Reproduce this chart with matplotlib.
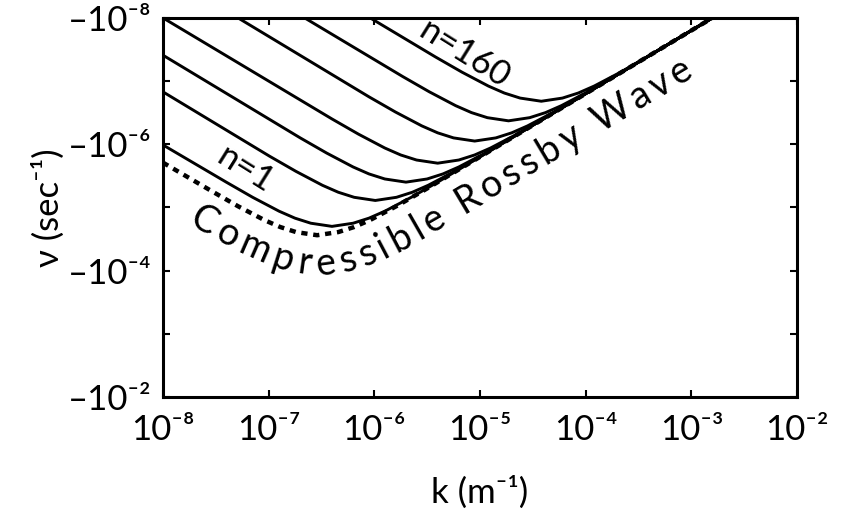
import numpy as np
import matplotlib
matplotlib.use('Agg')
import matplotlib.pyplot as plt
from matplotlib.ticker import FixedLocator, FixedFormatter, NullFormatter

# exponents: k = 10**x (m^-1), nu = -10**y (sec^-1)
dash_x = [-8.00, -7.54, -7.29, -7.04, -6.89, -6.74, -6.54, -6.34, -6.19, -6.04, -5.79, -5.54, -2.80]
dash_y = [-5.71, -5.26, -5.02, -4.80, -4.69, -4.61, -4.56, -4.61, -4.69, -4.80, -5.02, -5.26, -8.00]

# mode1 is n=1, mode7 is n=160
mode1_x = [-8.00, -7.40, -7.15, -6.90, -6.75, -6.60, -6.40, -6.20, -6.05, -5.90, -5.65, -5.40, -2.80]
mode1_y = [-5.99, -5.40, -5.16, -4.94, -4.83, -4.75, -4.70, -4.75, -4.83, -4.94, -5.16, -5.40, -8.00]
mode2_x = [-8.00, -6.99, -6.74, -6.49, -6.34, -6.19, -5.99, -5.79, -5.64, -5.49, -5.24, -4.99, -2.80]
mode2_y = [-6.83, -5.81, -5.57, -5.35, -5.24, -5.16, -5.11, -5.16, -5.24, -5.35, -5.57, -5.81, -8.00]
mode3_x = [-8.00, -6.70, -6.45, -6.20, -6.05, -5.90, -5.70, -5.50, -5.35, -5.20, -4.95, -4.70, -2.80]
mode3_y = [-7.41, -6.10, -5.86, -5.64, -5.53, -5.45, -5.40, -5.45, -5.53, -5.64, -5.86, -6.10, -8.00]
mode4_x = [-8.00, -6.40, -6.15, -5.90, -5.75, -5.60, -5.40, -5.20, -5.05, -4.90, -4.65, -4.40, -2.80]
mode4_y = [-8.00, -6.40, -6.16, -5.94, -5.83, -5.75, -5.70, -5.75, -5.83, -5.94, -6.16, -6.40, -8.00]
mode5_x = [-7.29, -6.05, -5.80, -5.55, -5.40, -5.25, -5.05, -4.85, -4.70, -4.55, -4.30, -4.05, -2.80]
mode5_y = [-8.00, -6.75, -6.51, -6.29, -6.18, -6.10, -6.05, -6.10, -6.18, -6.29, -6.51, -6.75, -8.00]
mode6_x = [-6.66, -5.73, -5.48, -5.23, -5.08, -4.93, -4.73, -4.53, -4.38, -4.23, -3.98, -3.73, -2.80]
mode6_y = [-8.00, -7.07, -6.83, -6.61, -6.50, -6.42, -6.37, -6.42, -6.50, -6.61, -6.83, -7.07, -8.00]
mode7_x = [-6.04, -5.42, -5.17, -4.92, -4.77, -4.62, -4.42, -4.22, -4.07, -3.92, -3.67, -3.42, -2.80]
mode7_y = [-8.00, -7.38, -7.14, -6.92, -6.81, -6.73, -6.68, -6.73, -6.81, -6.92, -7.14, -7.38, -8.00]

x_ticks = [-8, -7, -6, -5, -4, -3, -2]
x_labels = ['10⁻⁸', '10⁻⁷', '10⁻⁶', '10⁻⁵', '10⁻⁴', '10⁻³', '10⁻²']
y_ticks = [-8, -6, -4, -2]
y_labels = ['–10⁻⁸', '–10⁻⁶', '–10⁻⁴', '–10⁻²']

plt.rcParams['font.family'] = ['Lato', 'DejaVu Sans']


def text_along(ax, text, xs, ys, start, offset, size, track=0.0):
    # lay characters out one by one along a curve parallel to (xs, ys)
    r = ax.figure.canvas.get_renderer()

    def width(s):
        t = ax.text(0, 0, s + '|', fontsize=size)
        w = t.get_window_extent(r).width
        t.remove()
        return w

    bar = width('')
    adv = [width(text[:i]) - bar for i in range(len(text) + 1)]

    pts = ax.transData.transform(np.column_stack([xs, ys]))
    d = np.diff(pts, axis=0)
    un = d / np.hypot(d[:, 0], d[:, 1])[:, None]
    sn = np.column_stack([un[:, 1], -un[:, 0]])
    vn = np.vstack([sn[:1], sn[:-1] + sn[1:], sn[-1:]])
    vn = vn / np.hypot(vn[:, 0], vn[:, 1])[:, None]
    pts = pts + vn * offset

    d = np.diff(pts, axis=0)
    seg = np.hypot(d[:, 0], d[:, 1])
    cum = np.concatenate([[0], np.cumsum(seg)])
    inv = ax.transAxes.inverted()
    for i, ch in enumerate(text):
        if ch == ' ':
            continue
        mid = start + (adv[i] + adv[i + 1]) / 2 + track * i
        j = min(max(np.searchsorted(cum, mid) - 1, 0), len(seg) - 1)
        u = d[j] / seg[j]
        p = pts[j] + u * (mid - cum[j])
        ang = np.degrees(np.arctan2(u[1], u[0]))
        ax.text(*inv.transform(p), ch, transform=ax.transAxes, fontsize=size,
                ha='center', va='center', rotation=ang, rotation_mode='anchor')


fig = plt.figure(figsize=(8.48, 5.09), dpi=100)
ax = fig.add_axes([0.192, 0.22, 0.748, 0.745])

ax.set_xscale('log')
ax.set_yscale('log')
ax.set_xlim(1e-8, 1e-2)
ax.set_ylim(1e-2, 1e-8)

curves = [(mode1_x, mode1_y), (mode2_x, mode2_y), (mode3_x, mode3_y), (mode4_x, mode4_y),
          (mode5_x, mode5_y), (mode6_x, mode6_y), (mode7_x, mode7_y)]
dash_k = 10.0 ** np.array(dash_x)
dash_nu = 10.0 ** np.array(dash_y)
ax.plot(dash_k, dash_nu, color='black', lw=3.2, ls=(0, (1.4, 1.3)))
for cx, cy in curves:
    ax.plot(10.0 ** np.array(cx), 10.0 ** np.array(cy), color='black', lw=2.1,
            solid_capstyle='butt')

ax.xaxis.set_major_locator(FixedLocator([10.0 ** v for v in x_ticks]))
ax.xaxis.set_major_formatter(FixedFormatter(x_labels))
ax.xaxis.set_minor_locator(FixedLocator([]))
ax.yaxis.set_major_locator(FixedLocator([10.0 ** v for v in y_ticks]))
ax.yaxis.set_major_formatter(FixedFormatter(y_labels))
ax.yaxis.set_minor_locator(FixedLocator([10.0 ** v for v in [-7, -5, -3]]))
ax.yaxis.set_minor_formatter(NullFormatter())

ax.tick_params(which='both', direction='in', top=True, right=True, length=5, width=1.5,
               labelsize=25)
ax.tick_params(axis='x', pad=12)
ax.tick_params(axis='y', pad=8)
for s in ax.spines.values():
    s.set_linewidth(2.2)

ax.set_xlabel('k (m⁻¹)', fontsize=25, labelpad=22)
ax.set_ylabel('ν (sec⁻¹)', fontsize=25, labelpad=2)

ax.text(10 ** -5.15, 10 ** -7.42, 'n=160', fontsize=25, rotation=-32,
        ha='center', va='center', rotation_mode='anchor')
ax.text(10 ** -7.22, 10 ** -5.6, 'n=1', fontsize=25, rotation=-32,
        ha='center', va='center', rotation_mode='anchor')

text_along(ax, 'Compressible Rossby Wave', dash_k, dash_nu,
           start=52, offset=30, size=27, track=4.5)

fig.savefig('out.png', dpi=100)
